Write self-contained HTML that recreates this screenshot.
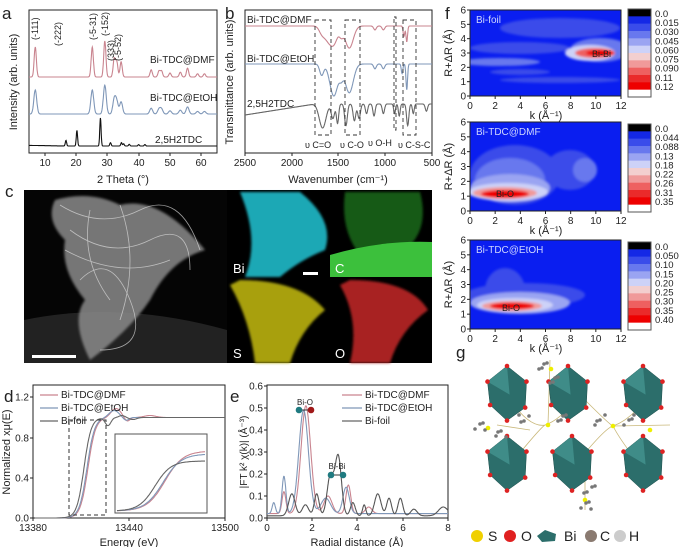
<!DOCTYPE html><html><head><style>body{margin:0;background:#fff}svg{display:block;font-family:"Liberation Sans",sans-serif}</style></head><body>
<svg id="s" width="685" height="547" viewBox="0 0 685 547" xmlns="http://www.w3.org/2000/svg">
<defs>
<filter id="bl"><feGaussianBlur stdDeviation="1.2"/></filter>
<clipPath id="c1"><rect x="470" y="10" width="151" height="86"/></clipPath>
<clipPath id="c2"><rect x="470" y="122" width="151" height="89"/></clipPath>
<clipPath id="c3"><rect x="470" y="240" width="151" height="89"/></clipPath>
</defs>
<g font-size="10" fill="#222">
<text x="2" y="19" font-size="17">a</text><text x="225" y="19" font-size="17">b</text>
<text x="445" y="19" font-size="17">f</text><text x="5" y="197" font-size="17">c</text>
<text x="4" y="402" font-size="17">d</text><text x="230" y="402" font-size="17">e</text>
<text x="456" y="358" font-size="17">g</text>
</g>
<rect x="24" y="190" width="408" height="173" fill="#000"/>
<rect x="24" y="190" width="203" height="173" fill="#050505"/>
<path d="M24 320 Q120 300 227 330 L227 363 L24 363Z" fill="#222"/>
<g filter="url(#bl)" opacity="0.85">
<path d="M55 200 Q90 190 120 205 Q160 195 205 250 Q170 260 150 300 Q130 330 90 360 Q70 320 85 300 Q60 270 65 240 Q45 220 55 200Z" fill="#8a8a8a"/>
</g>
<g stroke="#ddd" stroke-width="0.8" fill="none" opacity="0.7">
<path d="M60 205 Q100 230 140 210 T200 250"/><path d="M70 230 Q110 260 150 240 T190 270"/><path d="M80 280 Q110 250 130 300 T100 350"/><path d="M90 210 Q80 260 110 300"/><path d="M120 205 Q140 260 120 320"/><path d="M65 250 Q120 280 170 260"/></g>
<rect x="32" y="355" width="44" height="3" fill="#fff"/>
<g filter="url(#bl)">
<path d="M240 192 L300 192 Q335 220 325 250 Q300 260 280 277 L245 277 Q260 240 240 192Z" fill="#1aa8b5"/>
<path d="M345 192 L420 192 Q430 230 405 250 L360 255 Q340 230 345 192Z" fill="#135a18"/>
<path d="M240 280 Q300 280 325 310 Q300 330 290 363 L255 363 Q250 320 230 285Z" fill="#a8a010"/>
<path d="M350 280 Q410 280 428 310 Q400 330 390 363 L350 363 Q360 320 340 285Z" fill="#a82020"/>
</g>
<path d="M330 255 Q380 240 432 242 L432 277 L330 277Z" fill="#3cc03c"/>
<g fill="#fff" font-size="13"><text x="233" y="273">Bi</text><text x="335" y="273">C</text><text x="233" y="358">S</text><text x="335" y="358">O</text></g>
<rect x="303" y="272" width="15" height="3" fill="#fff"/>
<g id="dyn"></g>
</svg>
<script>
var NS="http://www.w3.org/2000/svg";
var GR=document.getElementById('dyn');
function el(tag,a,content){var e=document.createElementNS(NS,tag);for(var k in a){e.setAttribute(k,a[k]);}if(content!==undefined){e.textContent=content;}GR.appendChild(e);return e;}
function T(x,y,s,o){o=o||{};var a={x:x,y:y,'font-size':o.fs||10,fill:o.fill||'#222','text-anchor':o.a||'start'};if(o.attr){for(var k in o.attr)a[k]=o.attr[k];}return el('text',a,s);}
function axes(x0,y0,x1,y1,xt,yt){el('rect',{x:x0,y:y0,width:x1-x0,height:y1-y0,fill:'none',stroke:'#222','stroke-width':1});
 for(var i=0;i<xt.length;i++){var t=xt[i];el('line',{x1:t[0],y1:y1,x2:t[0],y2:y1+3,stroke:'#222'});T(t[0],y1+13,t[1],{a:'middle'});}
 for(var j=0;j<yt.length;j++){var u=yt[j];el('line',{x1:x0,y1:u[0],x2:x0-3,y2:u[0],stroke:'#222'});T(x0-4,u[0]+3.5,u[1],{a:'end'});}}
function P(f,xa,xb,n,col,w){var d='';for(var i=0;i<=n;i++){var x=xa+(xb-xa)*i/n;var y=f(x);d+=(i?'L':'M')+x.toFixed(1)+' '+y.toFixed(1);}el('path',{d:d,fill:'none',stroke:col,'stroke-width':w||1.1});}
function gs(x,c,w){var z=(x-c)/w;return Math.exp(-z*z);}
function sum(v,arr,wd,m){m=m||1;var s=0;for(var i=0;i<arr.length;i++){s+=arr[i][1]*gs(v,arr[i][0],(arr[i].length>2?arr[i][2]:wd)*m);}return s;}
try{
axes(29,10,217,153,[[45,'10'],[76,'20'],[107,'30'],[139,'40'],[170,'50'],[201,'60']],[]);
T(123,183,'2 Theta (°)',{a:'middle',fs:11});
T(17,82,'Intensity (arb. units)',{a:'middle',fs:11,attr:{transform:'rotate(-90 17 82)'}});
var pk1=[[7,.75],[25.2,.75],[29.2,.9],[32.2,.45],[33,.38],[34.4,.38],[44,.18],[46.5,.15],[47.3,.15],[50,.1],[53.3,.12],[55.6,.22],[58.8,.08],[61,.08]];
P(function(x){var v=5+(x-29)/3.133;return 77-sum(v,pk1,.5)*40;},29,217,600,'#c9848f');
P(function(x){var v=5+(x-29)/3.133;return 114-sum(v,pk1,.65)*32;},29,217,600,'#7f97b8');
var pk3=[[16.8,.2],[20.3,.55],[27.8,1],[31,.12],[34.5,.12],[35.2,.08],[37,.06],[40,.05],[42,.05]];
P(function(x){var v=5+(x-29)/3.133;return 146+(v<17?-(17-v)*0.05:0)-sum(v,pk3,.3)*28;},29,217,700,'#111');
[['(-111)',38,40],['(-222)',61,46],['(-5-31)',96,40],['(-152)',108,36],['(333)',114,61],['(-5-52)',121,61]].forEach(function(l){T(l[1],l[2],l[0],{fs:9,attr:{transform:'rotate(-90 '+l[1]+' '+l[2]+')'}});});
T(150,63,'Bi-TDC@DMF');T(150,101,'Bi-TDC@EtOH');T(155,143,'2,5H2TDC');
}catch(e){}
try{
axes(245,10,432,153,[[245,'2500'],[292,'2000'],[338,'1500'],[385,'1000'],[432,'500']],[]);
T(338,183,'Wavenumber (cm⁻¹)',{a:'middle',fs:11});
T(233,82,'Transmittance (arb. units)',{a:'middle',fs:11,attr:{transform:'rotate(-90 233 82)'}});
var f1=[[1600,.6,35],[1540,.4,25],[1385,.85,30],[1470,.3,15],[1110,.15,10],[1020,.15,10],[770,.6,6],[800,.4,6],[1680,.2,20]];
P(function(x){var v=2500-(x-245)/0.0935;return 26+sum(v,f1,10,2)*26;},245,432,700,'#c9848f');
var f2=[[1680,.35,15],[1550,1,30],[1385,.9,30],[1470,.3,15],[1110,.15,10],[1020,.15,10],[770,.8,6],[820,.3,6]];
P(function(x){var v=2500-(x-245)/0.0935;return 64+sum(v,f2,10,2)*32;},245,432,700,'#7f97b8');
var f3=[[1670,1,30],[1560,.6,15],[1510,.8,10],[1420,.9,12],[1330,.7,12],[1280,.6,12],[1200,.4,10],[1120,.5,10],[1020,.4,10],[900,.4,8],[850,.5,8],[760,.9,10],[700,.4,8],[560,.3,10]];
P(function(x){var v=2500-(x-245)/0.0935;return (v>1750?115-(2500-v)*0.0147:104)+sum(v,f3,10,1.7)*24;},245,432,800,'#666');
[[315,20,16,115],[345,20,15,115],[394,17,2,113],[403,20,13,115]].forEach(function(r){el('rect',{x:r[0],y:r[1],width:r[2],height:r[3],fill:'none',stroke:'#333','stroke-dasharray':'4 3','stroke-width':.9});});
T(247,23,'Bi-TDC@DMF');T(247,62,'Bi-TDC@EtOH');T(247,107,'2,5H2TDC');
T(305,148,'υ C=O',{fs:9});T(340,148,'υ C-O',{fs:9});T(368,146,'υ O-H',{fs:9});T(398,148,'υ C-S-C',{fs:9});
}catch(e){}
function sig(x,c,w){return 1/(1+Math.exp(-(x-c)/w));}
var legs=[['#c9848f','Bi-TDC@DMF',398],['#7f97b8','Bi-TDC@EtOH',411],['#666','Bi-foil',424]];
try{
axes(33,385,225,518,[[33,'13380'],[129,'13440'],[225,'13500']],[[518,'0.0'],[478,'0.4'],[438,'0.8'],[397,'1.2']]);
T(129,546,'Energy (eV)',{a:'middle',fs:11});
T(10,452,'Normalized xμ(E)',{a:'middle',fs:11,attr:{transform:'rotate(-90 10 452)'}});
P(function(x){return 518-100.5*(sig(x,88,3.8)*(1+.09*gs(x,116,7)-.04*gs(x,127,4)+.02*gs(x,150,8)));},35,225,400,'#c9848f');
P(function(x){return 518-100.5*(sig(x,87,3.8)*(1+.07*gs(x,114,7)-.03*gs(x,126,4)));},35,225,400,'#7f97b8');
P(function(x){return 518-100.5*(sig(x,84,3.6)*(1-.08*gs(x,108,4)+.02*gs(x,122,4)-.02*gs(x,133,5)));},35,225,400,'#666');
el('rect',{x:69,y:420,width:37,height:95,fill:'none',stroke:'#333','stroke-dasharray':'4 3'});
el('rect',{x:115,y:434,width:92,height:79,fill:'none',stroke:'#555'});
P(function(x){return 511-60*sig(x,165,9);},117,205,100,'#c9848f');
P(function(x){return 511-57*sig(x,163,9);},117,205,100,'#7f97b8');
P(function(x){return 511-50*sig(x,155,8);},117,205,100,'#666');
legs.forEach(function(l){el('line',{x1:40,y1:l[2]-3,x2:58,y2:l[2]-3,stroke:l[0],'stroke-width':1.3});T(61,l[2],l[1]);});
}catch(e){}
try{
axes(267,385,448,518,[[267,'0'],[312,'2'],[357,'4'],[403,'6'],[448,'8']],[[518,'0.0'],[496,'0.1'],[474,'0.2'],[452,'0.3'],[430,'0.4'],[408,'0.5'],[386,'0.6']]);
T(357,546,'Radial distance (Å)',{a:'middle',fs:11});
T(247,452,'|FT k² χ(k)| (Å⁻³)',{a:'middle',fs:10,attr:{transform:'rotate(-90 247 452)'}});
function EY(v){return 518-v*220;}
P(function(x){var r=(x-267)/22.6;return EY(.49*gs(r,1.72,.3)+.1*gs(r,.75,.12)+.08*gs(r,2.7,.25)+.13*gs(r,3.6,.15)+.03*gs(r,4.5,.2)+.02);},267,448,400,'#c9848f');
P(function(x){var r=(x-267)/22.6;return EY(.47*gs(r,1.62,.3)+.17*gs(r,.75,.12)+.05*gs(r,.3,.1)+.07*gs(r,2.6,.3)+.12*gs(r,3.5,.2)+.02);},267,448,400,'#7f97b8');
P(function(x){var r=(x-267)/22.6;return EY(.1*gs(r,1.1,.2)+.05*gs(r,1.7,.2)+.1*gs(r,2.2,.15)+.18*gs(r,2.8,.2)+.27*gs(r,3.15,.2)+.06*gs(r,3.8,.15)+.05*gs(r,4.3,.1)+.1*gs(r,4.9,.2)+.08*gs(r,5.4,.15)+.08*gs(r,5.9,.15)+.03*gs(r,6.5,.2)+.04*gs(r,7.8,.3)+.01);},267,448,500,'#555');
T(305,405,'Bi-O',{fs:8,a:'middle'});T(337,469,'Bi-Bi',{fs:8,a:'middle'});
el('line',{x1:299,y1:410,x2:311,y2:410,stroke:'#333'});el('circle',{cx:299,cy:410,r:3.3,fill:'#1f7a80'});el('circle',{cx:311,cy:410,r:3.3,fill:'#a01818'});
el('line',{x1:331,y1:475,x2:343,y2:475,stroke:'#333'});el('circle',{cx:331,cy:475,r:3.3,fill:'#1f7a80'});el('circle',{cx:343,cy:475,r:3.3,fill:'#1f7a80'});
legs.forEach(function(l){el('line',{x1:342,y1:l[2]-3,x2:362,y2:l[2]-3,stroke:l[0],'stroke-width':1.3});T(365,l[2],l[1]);});
}catch(e){}
var blues=['#1428e6','#3a4cea','#6878ee','#9aa4f2','#cdd2f8','#f3cfcf','#f09a9a','#ee6060','#ea2a2a','#e00'];
function fplot(o,name,clip,shapes,cb,lab){
 var x0=470,x1=621,h=o.h;
 el('rect',{x:x0,y:o.t,width:151,height:h,fill:'#0a1ef0'});
 var gg=el('g',{'clip-path':'url(#'+clip+')',filter:'url(#bl)'});
 shapes.forEach(function(s){var e=document.createElementNS(NS,'ellipse');e.setAttribute('cx',s[0]);e.setAttribute('cy',s[1]);e.setAttribute('rx',s[2]);e.setAttribute('ry',s[3]);e.setAttribute('fill',s[4]);gg.appendChild(e);});
 var ticks=[];for(var k=0;k<=12;k+=2)ticks.push([x0+k*151/12,String(k)]);
 var yt=[];for(var r=0;r<=6;r++)yt.push([o.t+h-r*h/6,String(r)]);
 axes(x0,o.t,x1,o.t+h,ticks,yt);
 T(546,o.t+h+23,'k (Å⁻¹)',{a:'middle',fs:11});
 T(452,o.t+h/2,'R+ΔR (Å)',{a:'middle',fs:11,attr:{transform:'rotate(-90 452 '+(o.t+h/2)+')'}});
 T(476,o.t+13,name,{fill:'#cfd6ff'});
 var cols=['#000'].concat(blues).concat(['#fff']);
 for(var i=0;i<cols.length;i++)el('rect',{x:628,y:o.cb+i*o.cbh/cols.length,width:23,height:o.cbh/cols.length+.3,fill:cols[i]});
 el('rect',{x:628,y:o.cb,width:23,height:o.cbh,fill:'none',stroke:'#555'});
 cb.forEach(function(v,i){T(655,o.cb+8+i*(o.cbh-6)/cb.length,v,{fs:9.5});});
 T(lab[0],lab[1],lab[2],{fs:9});}
try{
fplot({t:10,h:86,cb:9,cbh:88},'Bi-foil','c1',[
 [560,28,60,10,'#3a4cea'],[520,48,50,6,'#3a4cea'],[600,50,30,12,'#6878ee'],[590,53,25,8,'#cdd2f8'],[595,53,20,5,'#ee6060'],[600,53,14,3,'#e00'],[500,62,40,4,'#6878ee'],[560,80,60,3,'#3a4cea'],[520,72,30,3,'#3a4cea']],
 ['0.0','0.015','0.030','0.045','0.060','0.075','0.090','0.11','0.12'],[592,57,'Bi-Bi']);
}catch(e){}
try{
fplot({t:122,h:89,cb:124,cbh:88},'Bi-TDC@DMF','c2',[
 [515,175,45,30,'#3a4cea'],[570,170,25,20,'#3a4cea'],[510,180,35,22,'#6878ee'],[510,188,40,14,'#9aa4f2'],[508,192,40,9,'#cdd2f8'],[505,193,32,6,'#f09a9a'],[505,194,24,4,'#e00'],[585,170,12,12,'#6878ee']],
 ['0.0','0.044','0.088','0.13','0.18','0.22','0.26','0.31','0.35'],[496,197,'Bi-O']);
}catch(e){}
try{
fplot({t:240,h:89,cb:242,cbh:88},'Bi-TDC@EtOH','c3',[
 [525,295,60,12,'#3a4cea'],[505,290,20,22,'#3a4cea'],[520,303,50,11,'#9aa4f2'],[515,305,38,7,'#cdd2f8'],[512,306,30,5,'#f09a9a'],[512,306,22,3.5,'#e00']],
 ['0.0','0.050','0.10','0.15','0.20','0.25','0.30','0.35','0.40'],[502,311,'Bi-O']);
}catch(e){}
try{
function poly(cx,cy,s){
 el('polygon',{points:(cx-15*s)+','+(cy-8*s)+' '+cx+','+(cy-20*s)+' '+(cx+15*s)+','+(cy-8*s)+' '+(cx+14*s)+','+(cy+12*s)+' '+cx+','+(cy+22*s)+' '+(cx-13*s)+','+(cy+10*s),fill:'#2c6e6b',stroke:'#1d4d4a','stroke-width':.5});
 el('polygon',{points:(cx-15*s)+','+(cy-8*s)+' '+cx+','+(cy-20*s)+' '+(cx+2*s)+','+(cy+2*s),fill:'#3f8c88'});
 [[-15,-8],[0,-20],[15,-8],[14,12],[0,22],[-13,10]].forEach(function(p){el('circle',{cx:cx+p[0]*s,cy:cy+p[1]*s,r:2.3,fill:'#d22'});});}
el('path',{d:'M510 400 Q530 428 545 425 Q560 420 575 400 M510 465 Q540 428 545 425 M575 465 Q605 428 613 426 Q630 420 645 400 M585 400 Q610 425 613 426 M640 465 Q620 440 613 426 M497 425 L530 430 M613 426 L670 425 M550 360 L548 425 M585 480 L585 510',stroke:'#c9b87a','stroke-width':.8,fill:'none'});
[[507,392],[568,392],[643,392],[507,462],[572,462],[643,462]].forEach(function(p){poly(p[0],p[1],1.3);});
[[548,425],[613,426],[650,430],[488,428],[551,369],[585,500]].forEach(function(p){el('circle',{cx:p[0],cy:p[1],r:2.3,fill:'#ee0'});});
var anc=[[525,420],[560,420],[600,420],[630,420],[500,432],[480,425],[545,365],[585,505],[555,380],[590,490]];
for(var i=0;i<40;i++){var a=anc[i%10];el('circle',{cx:a[0]+(i*7%13)-6,cy:a[1]+(i*5%11)-5,r:1.8,fill:'#777'});}
var ly=536;
el('circle',{cx:477,cy:ly,r:6,fill:'#f0d000'});T(488,ly+5,'S',{fs:14});
el('circle',{cx:510,cy:ly,r:6,fill:'#e02020'});T(521,ly+5,'O',{fs:14});
el('polygon',{points:'537,'+ly+' 545,'+(ly-6)+' 556,'+(ly-2)+' 555,'+(ly+5)+' 542,'+(ly+6),fill:'#2c6e6b'});T(564,ly+5,'Bi',{fs:14});
el('circle',{cx:591,cy:ly,r:6,fill:'#8a7a70'});T(600,ly+5,'C',{fs:14});
el('circle',{cx:620,cy:ly,r:6,fill:'#ccc'});T(629,ly+5,'H',{fs:14});
}catch(e){}
</script>
</body></html>
